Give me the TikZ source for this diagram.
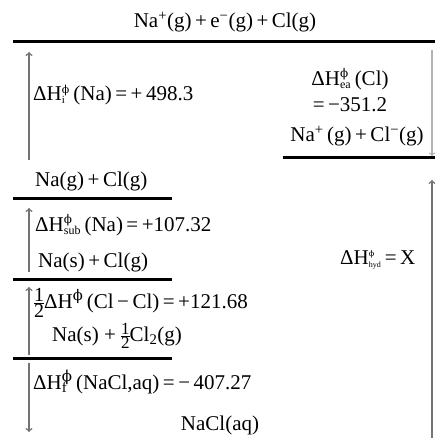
\documentclass[tikz,border=0pt]{standalone}
\usepackage{amsmath}
\usepackage{fontspec}
\setmainfont{Liberation Serif}
\newfontfamily\phifont{DejaVu Serif}
\newcommand\phisym{{\phifont ϕ}}
\newbox\supbox
\newbox\subbox
\newcommand\supsub[2]{\setbox\supbox\hbox{\textsuperscript{#1}}\setbox\subbox\hbox{\textsubscript{#2}}\ifdim\wd\supbox>\wd\subbox\rlap{\box\subbox}\box\supbox\else\rlap{\box\supbox}\box\subbox\fi}
\newcommand\dH[2][11]{ΔH\supsub{\fontsize{#1}{#1}\selectfont\phisym}{\fontsize{#1}{#1}\selectfont #2}}
\newcommand\half[2]{\raisebox{#2}{\fontsize{#1}{#1}\selectfont\vbox{\hbox{1}\kern0.8pt\hrule height0.6pt\kern1.2pt\hbox{2}}}}

\begin{document}
\begin{tikzpicture}[x=1pt, y=-1pt, every node/.style={font=\fontsize{21}{26}\selectfont, inner sep=0pt},
  level/.style={line width=3pt}, flow/.style={->, black!55, line width=1.5pt}, faint/.style={->, black!30, line width=1.3pt}]
\useasboundingbox (0,0) rectangle (435,438);

\node (top) at (225,22) {Na\textsuperscript{+}(g)\,+\,e\textsuperscript{−}(g)\,+\,Cl(g)};
\draw[level] (13,42) -- (435,42);

\node[anchor=west] (dHi) at (33,95) {\dH{i}\,(Na)\,=\,+\,498.3};
\node[align=center] (dHea) at (350,90) {\dH[12]{ea}\,(Cl)\\=\,−351.2};
\node (naion) at (357,136) {Na\textsuperscript{+}\,(g)\,+\,Cl\textsuperscript{−}(g)};
\draw[level] (283,158) -- (435,158);

\node[anchor=west] (nag) at (35,181) {Na(g)\,+\,Cl(g)};
\draw[level] (13,198) -- (172,198);

\node[anchor=west] (dHsub) at (35,225) {\dH[12]{sub}\,(Na)\,=\,+107.32};
\node[anchor=west] (nas) at (38,262) {Na(s)\,+\,Cl(g)};
\draw[level] (13,279) -- (172,279);

\node[anchor=base west] (dHcl) at (34,308) {\half{20}{-9.8pt}ΔH\textsuperscript{\phisym}\,(Cl\,−\,Cl)\,=\,+121.68};
\node[anchor=base west] (nahalf) at (52,341) {Na(s) + \half{17}{-7.8pt}Cl\textsubscript{2}(g)};
\draw[level] (13,358) -- (172,358);

\node[anchor=west] (dHf) at (33,382) {\dH[15]{f}\,(NaCl,aq)\,=\,−\,407.27};
\node (nacl) at (220,425) {NaCl(aq)};

\node[anchor=west] (dHhyd) at (340,260) {\dH[8]{hyd}\,=\,X};

\coordinate (ionlow) at (29,160);
\coordinate (ionup) at (29,52);
\coordinate (sublow) at (29,272);
\coordinate (subup) at (29,208);
\coordinate (cllow) at (29,355);
\coordinate (clup) at (29,287);
\coordinate (fup) at (29,363);
\coordinate (fdown) at (29,432);
\coordinate (eaup) at (432,50);
\coordinate (ealow) at (432,156);
\coordinate (hydlow) at (432,438);
\coordinate (hydup) at (432,180);

\draw[flow] (ionlow) -- (ionup);
\draw[flow] (sublow) -- (subup);
\draw[flow] (cllow) -- (clup);
\draw[flow] (fup) -- (fdown);
\draw[faint] (eaup) -- (ealow);
\draw[flow] (hydlow) -- (hydup);
\end{tikzpicture}
\end{document}
